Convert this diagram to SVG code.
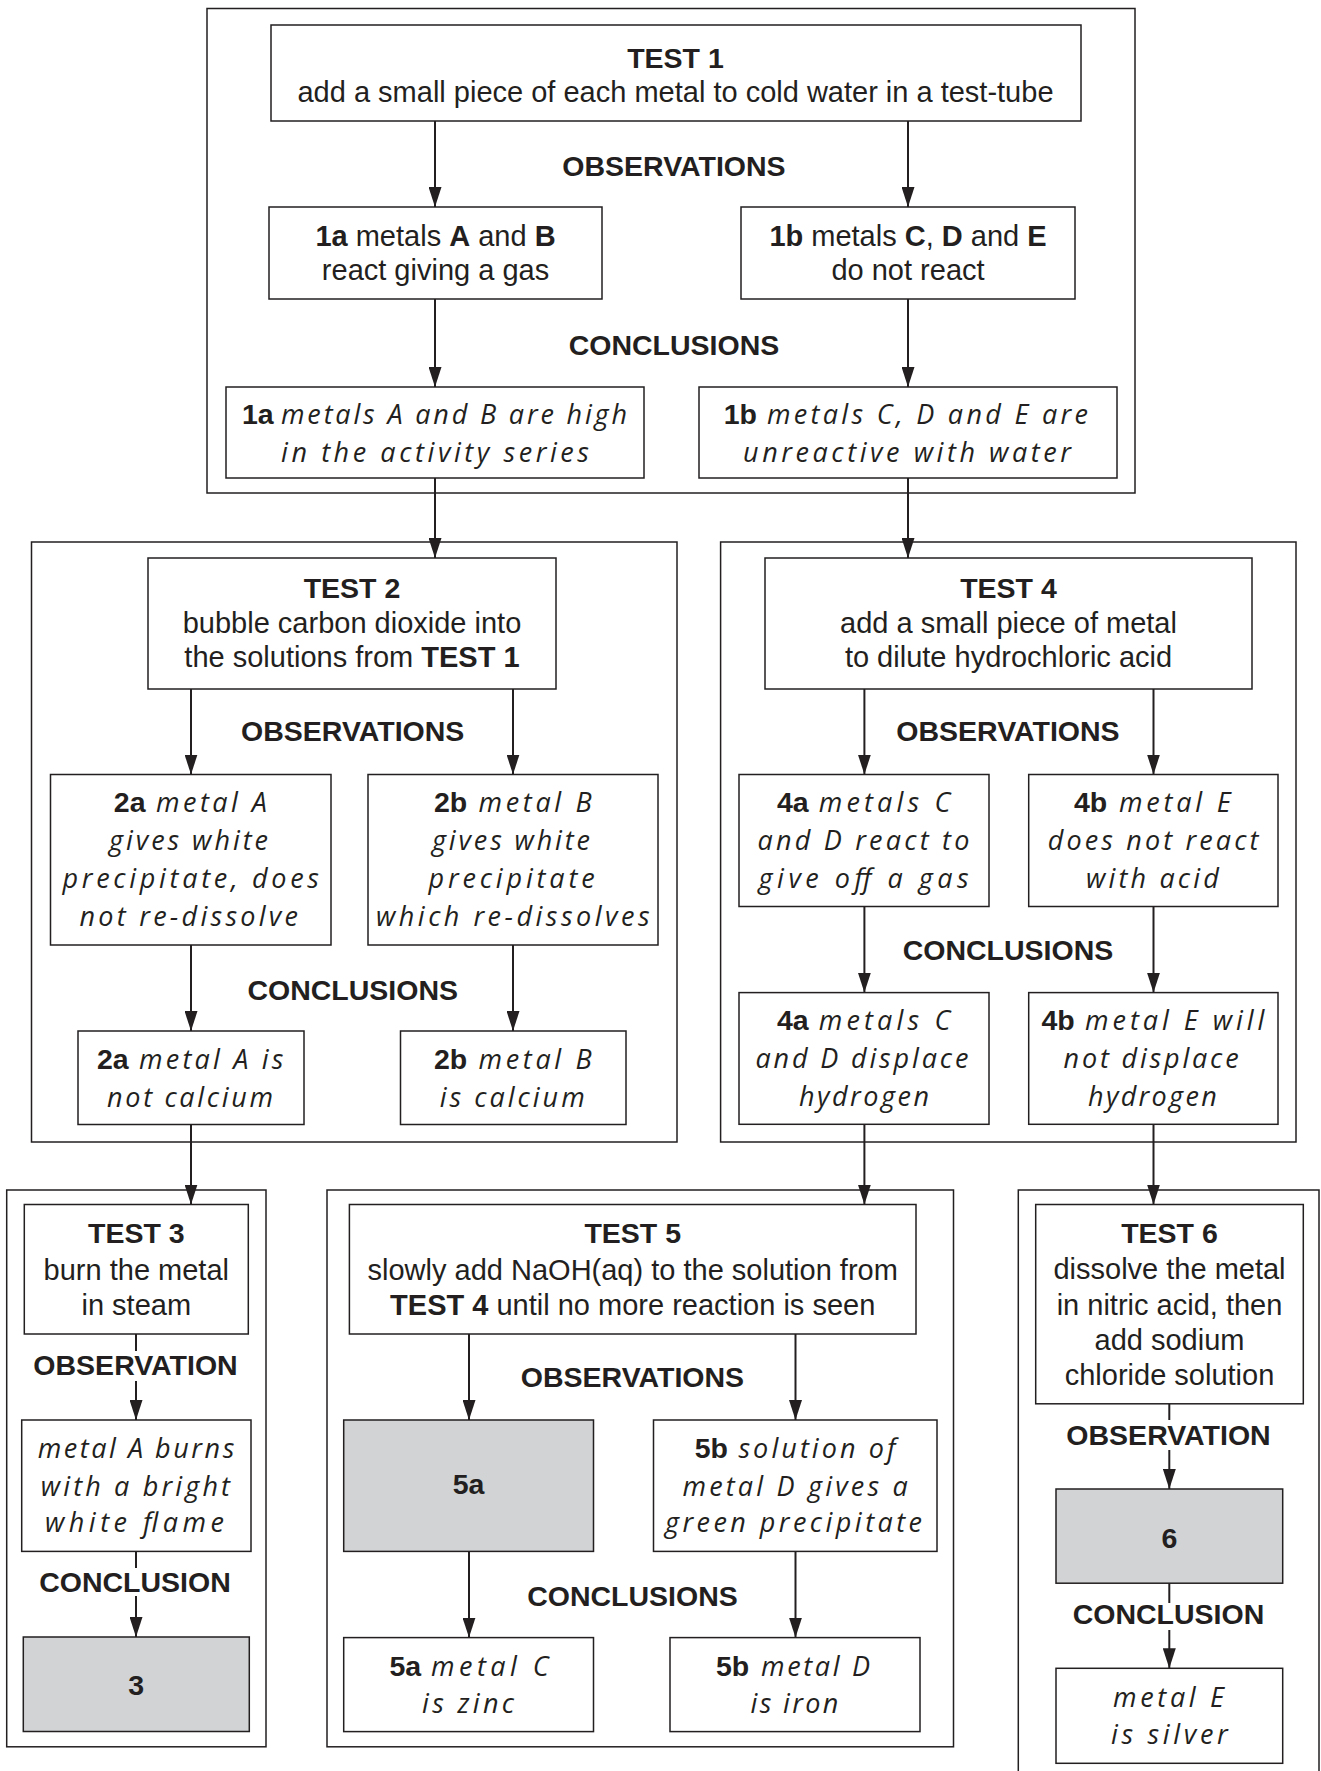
<svg xmlns="http://www.w3.org/2000/svg" width="1321" height="1771" viewBox="0 0 1321 1771">
<defs>
<marker id="ah" markerUnits="userSpaceOnUse" markerWidth="20" markerHeight="13" refX="20" refY="6.5" orient="auto"><path d="M0,0 L20,6.5 L0,13 z" fill="#231f20"/></marker>
<style>
.frame{fill:none;stroke:#231f20;stroke-width:1.5}
.box{fill:#fff;stroke:#231f20;stroke-width:1.5}
.gray{fill:#d1d3d4;stroke:#231f20;stroke-width:1.5}
text{font-family:"Liberation Sans",Arial,sans-serif;font-size:29px;fill:#231f20}
.c{text-anchor:middle}
.b{font-weight:bold;font-size:28.5px}
tspan.b{font-size:29px}
.h{font-family:"Open Sans","Noto Sans",sans-serif;font-weight:400;font-style:italic;font-size:27px}
.conn line{stroke:#231f20;stroke-width:2}
.conn line.a{marker-end:url(#ah)}
</style>
</defs>
<rect width="1321" height="1771" fill="#fff"/>
<g id="frames">
<rect class="frame" x="207" y="8.5" width="928" height="484.5"/>
<rect class="frame" x="31.5" y="542" width="645.5" height="600"/>
<rect class="frame" x="720.6" y="542" width="575.4" height="600"/>
<rect class="frame" x="6.7" y="1190" width="259.3" height="556.8"/>
<rect class="frame" x="327" y="1190" width="626.5" height="556.8"/>
<rect class="frame" x="1018.3" y="1190" width="300.7" height="620"/>
</g>
<g class="conn" id="connectors">
<line class="a" x1="435" y1="121" x2="435" y2="207"/>
<line class="a" x1="908" y1="121" x2="908" y2="207"/>
<line class="a" x1="435" y1="299" x2="435" y2="387"/>
<line class="a" x1="908" y1="299" x2="908" y2="387"/>
<line class="a" x1="435" y1="478" x2="435" y2="558"/>
<line class="a" x1="908" y1="478" x2="908" y2="558"/>
<line class="a" x1="191" y1="689" x2="191" y2="774.5"/>
<line class="a" x1="513" y1="689" x2="513" y2="774.5"/>
<line class="a" x1="191" y1="945" x2="191" y2="1031"/>
<line class="a" x1="513" y1="945" x2="513" y2="1031"/>
<line class="a" x1="864.4" y1="689" x2="864.4" y2="774.5"/>
<line class="a" x1="1153.5" y1="689" x2="1153.5" y2="774.5"/>
<line class="a" x1="864.4" y1="906.5" x2="864.4" y2="992.6"/>
<line class="a" x1="1153.5" y1="906.5" x2="1153.5" y2="992.6"/>
<line class="a" x1="191" y1="1124.3" x2="191" y2="1204.5"/>
<line class="a" x1="864.4" y1="1124.3" x2="864.4" y2="1204.5"/>
<line class="a" x1="1153.5" y1="1124.3" x2="1153.5" y2="1204.5"/>
<line x1="136" y1="1334" x2="136" y2="1351"/>
<line class="a" x1="136" y1="1381" x2="136" y2="1420"/>
<line x1="136" y1="1551.4" x2="136" y2="1568"/>
<line class="a" x1="136" y1="1596" x2="136" y2="1637"/>
<line class="a" x1="469" y1="1334" x2="469" y2="1420"/>
<line class="a" x1="795.5" y1="1334" x2="795.5" y2="1420"/>
<line class="a" x1="469" y1="1551.4" x2="469" y2="1637.6"/>
<line class="a" x1="795.5" y1="1551.4" x2="795.5" y2="1637.6"/>
<line x1="1169.3" y1="1403.8" x2="1169.3" y2="1420"/>
<line class="a" x1="1169.3" y1="1450" x2="1169.3" y2="1489"/>
<line x1="1169.3" y1="1583.2" x2="1169.3" y2="1603"/>
<line class="a" x1="1169.3" y1="1630" x2="1169.3" y2="1668.3"/>
</g>
<g id="labels">
<text class="b c" x="674" y="175.5">OBSERVATIONS</text>
<text class="b c" x="674" y="355">CONCLUSIONS</text>
<text class="b c" x="352.7" y="740.5">OBSERVATIONS</text>
<text class="b c" x="352.7" y="999.5">CONCLUSIONS</text>
<text class="b c" x="1008" y="740.5">OBSERVATIONS</text>
<text class="b c" x="1008" y="960">CONCLUSIONS</text>
<text class="b c" x="135.5" y="1375">OBSERVATION</text>
<text class="b c" x="135" y="1592">CONCLUSION</text>
<text class="b c" x="632.5" y="1387">OBSERVATIONS</text>
<text class="b c" x="632.5" y="1606">CONCLUSIONS</text>
<text class="b c" x="1168.5" y="1445">OBSERVATION</text>
<text class="b c" x="1168.5" y="1623.5">CONCLUSION</text>
</g>
<g id="test1">
<rect class="box" x="271" y="25" width="810" height="96"/>
<text class="b c" x="675.5" y="67.5">TEST 1</text>
<text class="c" x="675.5" y="102">add a small piece of each metal to cold water in a test-tube</text>
</g>
<g id="obs1a">
<rect class="box" x="269" y="207" width="333" height="92"/>
<text class="c" x="435.5" y="246"><tspan class="b">1a</tspan> metals <tspan class="b">A</tspan> and <tspan class="b">B</tspan></text>
<text class="c" x="435.5" y="279.5">react giving a gas</text>
</g>
<g id="obs1b">
<rect class="box" x="741" y="207" width="334" height="92"/>
<text class="c" x="908" y="246"><tspan class="b">1b</tspan> metals <tspan class="b">C</tspan>, <tspan class="b">D</tspan> and <tspan class="b">E</tspan></text>
<text class="c" x="908" y="279.5">do not react</text>
</g>
<g id="con1a">
<rect class="box" x="226" y="387" width="418" height="91"/>
<text class="b" x="242" y="424">1a</text>
<text class="h" x="281" y="424" textLength="346">metals A and B are high</text>
<text class="h" x="281" y="461.5" textLength="308">in the activity series</text>
</g>
<g id="con1b">
<rect class="box" x="699" y="387" width="418" height="91"/>
<text class="b" x="723.7" y="424">1b</text>
<text class="h" x="767" y="424" textLength="321">metals C, D and E are</text>
<text class="h" x="743" y="461.5" textLength="328">unreactive with water</text>
</g>
<g id="test2">
<rect class="box" x="148" y="558" width="408" height="131"/>
<text class="b c" x="352" y="597.5">TEST 2</text>
<text class="c" x="352" y="633">bubble carbon dioxide into</text>
<text class="c" x="352" y="667">the solutions from <tspan class="b">TEST 1</tspan></text>
</g>
<g id="obs2a">
<rect class="box" x="50.5" y="774.5" width="280.5" height="170.5"/>
<text class="b" x="113.8" y="812">2a</text>
<text class="h" x="156" y="812" textLength="111">metal A</text>
<text class="h" x="109" y="850" textLength="159">gives white</text>
<text class="h" x="62.5" y="888" textLength="256.5">precipitate, does</text>
<text class="h" x="79.5" y="926" textLength="218.5">not re-dissolve</text>
</g>
<g id="obs2b">
<rect class="box" x="368" y="774.5" width="290" height="170.5"/>
<text class="b" x="434" y="812">2b</text>
<text class="h" x="478.6" y="812" textLength="113">metal B</text>
<text class="h" x="432" y="850" textLength="158">gives white</text>
<text class="h" x="428.6" y="888" textLength="166">precipitate</text>
<text class="h" x="376" y="926" textLength="273.6">which re-dissolves</text>
</g>
<g id="con2a">
<rect class="box" x="78" y="1031" width="226" height="93.5"/>
<text class="b" x="97" y="1068.5">2a</text>
<text class="h" x="139" y="1068.5" textLength="144.5">metal A is</text>
<text class="h" x="107" y="1106.5" textLength="166">not calcium</text>
</g>
<g id="con2b">
<rect class="box" x="400.5" y="1031" width="225.5" height="93.5"/>
<text class="b" x="434" y="1068.5">2b</text>
<text class="h" x="478.6" y="1068.5" textLength="113">metal B</text>
<text class="h" x="439.7" y="1106.5" textLength="145">is calcium</text>
</g>
<g id="test4">
<rect class="box" x="765" y="558" width="487" height="131"/>
<text class="b c" x="1008.5" y="597.5">TEST 4</text>
<text class="c" x="1008.5" y="633">add a small piece of metal</text>
<text class="c" x="1008.5" y="667">to dilute hydrochloric acid</text>
</g>
<g id="obs4a">
<rect class="box" x="739" y="774.5" width="250" height="132"/>
<text class="b" x="777" y="812">4a</text>
<text class="h" x="818.8" y="812" textLength="131.5">metals C</text>
<text class="h" x="757.4" y="850" textLength="212">and D react to</text>
<text class="h" x="758.6" y="888" textLength="210">give off a gas</text>
</g>
<g id="obs4b">
<rect class="box" x="1028.7" y="774.5" width="249.3" height="132"/>
<text class="b" x="1074" y="812">4b</text>
<text class="h" x="1119" y="812" textLength="111.7">metal E</text>
<text class="h" x="1047.7" y="850" textLength="210.7">does not react</text>
<text class="h" x="1086" y="888" textLength="132.8">with acid</text>
</g>
<g id="con4a">
<rect class="box" x="739" y="992.6" width="250" height="131.7"/>
<text class="b" x="777" y="1029.5">4a</text>
<text class="h" x="818.8" y="1029.5" textLength="131.5">metals C</text>
<text class="h" x="755.4" y="1068" textLength="213">and D displace</text>
<text class="h" x="799" y="1105.5" textLength="130">hydrogen</text>
</g>
<g id="con4b">
<rect class="box" x="1028.7" y="992.6" width="249.3" height="131.7"/>
<text class="b" x="1041.4" y="1029.5">4b</text>
<text class="h" x="1085" y="1029.5" textLength="179.4">metal E will</text>
<text class="h" x="1063.6" y="1068" textLength="175">not displace</text>
<text class="h" x="1088" y="1105.5" textLength="128.8">hydrogen</text>
</g>
<g id="test3">
<rect class="box" x="24.3" y="1204.5" width="224" height="129.5"/>
<text class="b c" x="136.3" y="1243">TEST 3</text>
<text class="c" x="136.3" y="1279.5">burn the metal</text>
<text class="c" x="136.3" y="1315">in steam</text>
</g>
<g id="obs3">
<rect class="box" x="21.7" y="1420" width="229.3" height="131.4"/>
<text class="h" x="37.7" y="1457.5" textLength="196.6">metal A burns</text>
<text class="h" x="40.7" y="1496" textLength="189.3">with a bright</text>
<text class="h" x="45" y="1532" textLength="179">white flame</text>
</g>
<g id="con3">
<rect class="gray" x="23.3" y="1637" width="226" height="94.5"/>
<text class="b c" x="136.3" y="1695">3</text>
</g>
<g id="test5">
<rect class="box" x="349.4" y="1204.5" width="566.6" height="129.5"/>
<text class="b c" x="632.7" y="1243">TEST 5</text>
<text class="c" x="632.7" y="1279.5">slowly add NaOH(aq) to the solution from</text>
<text class="c" x="632.7" y="1315"><tspan class="b">TEST 4</tspan> until no more reaction is seen</text>
</g>
<g id="obs5a">
<rect class="gray" x="343.7" y="1420" width="249.8" height="131.4"/>
<text class="b c" x="468.6" y="1494">5a</text>
</g>
<g id="obs5b">
<rect class="box" x="653.5" y="1420" width="283.5" height="131.4"/>
<text class="b" x="694.7" y="1458">5b</text>
<text class="h" x="738.4" y="1458" textLength="157">solution of</text>
<text class="h" x="682.4" y="1496" textLength="225.4">metal D gives a</text>
<text class="h" x="665" y="1532" textLength="257">green precipitate</text>
</g>
<g id="con5a">
<rect class="box" x="343.7" y="1637.6" width="249.8" height="94"/>
<text class="b" x="389.4" y="1676">5a</text>
<text class="h" x="431" y="1676" textLength="117.6">metal C</text>
<text class="h" x="422" y="1712.5" textLength="92">is zinc</text>
</g>
<g id="con5b">
<rect class="box" x="670" y="1637.6" width="250" height="94"/>
<text class="b" x="716" y="1676">5b</text>
<text class="h" x="761" y="1676" textLength="109">metal D</text>
<text class="h" x="750.6" y="1712.5" textLength="87.8">is iron</text>
</g>
<g id="test6">
<rect class="box" x="1035.7" y="1204.5" width="267.6" height="199.3"/>
<text class="b c" x="1169.5" y="1243">TEST 6</text>
<text class="c" x="1169.5" y="1279">dissolve the metal</text>
<text class="c" x="1169.5" y="1314.5">in nitric acid, then</text>
<text class="c" x="1169.5" y="1350">add sodium</text>
<text class="c" x="1169.5" y="1385">chloride solution</text>
</g>
<g id="obs6">
<rect class="gray" x="1056" y="1489" width="226.7" height="94.2"/>
<text class="b c" x="1169.4" y="1547.5">6</text>
</g>
<g id="con6">
<rect class="box" x="1056" y="1668.3" width="226.7" height="95"/>
<text class="h" x="1113" y="1706.6" textLength="111">metal E</text>
<text class="h" x="1111" y="1744" textLength="116.7">is silver</text>
</g>
</svg>
